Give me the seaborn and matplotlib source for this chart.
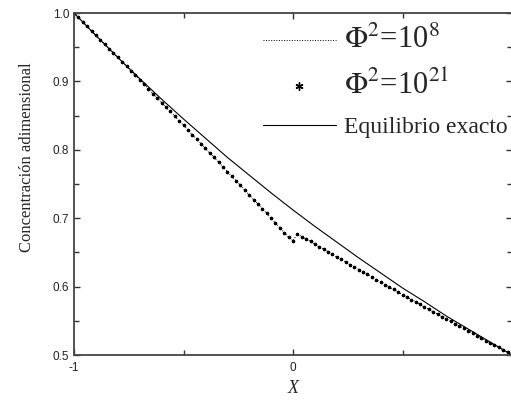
import matplotlib
matplotlib.use('Agg')
import matplotlib.pyplot as plt
import seaborn as sns
from matplotlib.ticker import MultipleLocator, FormatStrFormatter

# Données
# =============================================

# Grille en X (pas de 0.02)
x_grid = [-1.00, -0.98, -0.96, -0.94, -0.92, -0.90, -0.88, -0.86, -0.84, -0.82,
          -0.80, -0.78, -0.76, -0.74, -0.72, -0.70, -0.68, -0.66, -0.64, -0.62,
          -0.60, -0.58, -0.56, -0.54, -0.52, -0.50, -0.48, -0.46, -0.44, -0.42,
          -0.40, -0.38, -0.36, -0.34, -0.32, -0.30, -0.28, -0.26, -0.24, -0.22,
          -0.20, -0.18, -0.16, -0.14, -0.12, -0.10, -0.08, -0.06, -0.04, -0.02,
          0.00,
          0.02, 0.04, 0.06, 0.08, 0.10, 0.12, 0.14, 0.16, 0.18, 0.20,
          0.22, 0.24, 0.26, 0.28, 0.30, 0.32, 0.34, 0.36, 0.38, 0.40,
          0.42, 0.44, 0.46, 0.48, 0.50, 0.52, 0.54, 0.56, 0.58, 0.60,
          0.62, 0.64, 0.66, 0.68, 0.70, 0.72, 0.74, 0.76, 0.78, 0.80,
          0.82, 0.84, 0.86, 0.88, 0.90, 0.92, 0.94, 0.96, 0.98, 1.00]

# Phi^2 = 10^21 (astérisques)
c_phi21 = [1.000, 0.994, 0.987, 0.981, 0.974, 0.968, 0.961, 0.955, 0.948, 0.942,
           0.935, 0.929, 0.922, 0.915, 0.909, 0.902, 0.896, 0.889, 0.882, 0.876,
           0.869, 0.862, 0.856, 0.849, 0.842, 0.836, 0.829, 0.822, 0.816, 0.809,
           0.802, 0.795, 0.789, 0.782, 0.775, 0.768, 0.761, 0.755, 0.748, 0.741,
           0.734, 0.727, 0.721, 0.714, 0.707, 0.700, 0.693, 0.686, 0.679, 0.672,
           0.667,
           0.677, 0.673, 0.670, 0.666, 0.662, 0.658, 0.655, 0.651, 0.647, 0.643,
           0.640, 0.636, 0.632, 0.629, 0.625, 0.621, 0.618, 0.614, 0.610, 0.607,
           0.603, 0.599, 0.596, 0.592, 0.588, 0.585, 0.581, 0.578, 0.574, 0.570,
           0.567, 0.563, 0.560, 0.556, 0.553, 0.549, 0.546, 0.542, 0.539, 0.535,
           0.532, 0.528, 0.525, 0.521, 0.518, 0.514, 0.511, 0.507, 0.504, 0.500]

# Phi^2 = 10^8 (pointillés) : confondu avec la courbe 10^21 à cette échelle
c_phi8 = list(c_phi21)

# Équilibre exact
x_exact = [-1.0, -0.9, -0.8, -0.7, -0.6, -0.5, -0.4, -0.3, -0.2, -0.1,
           0.0, 0.1, 0.2, 0.3, 0.4, 0.5, 0.6, 0.7, 0.8, 0.9, 1.0]
c_exact = [1.000, 0.967, 0.935, 0.904, 0.874, 0.845, 0.817, 0.789, 0.763, 0.737,
           0.712, 0.688, 0.665, 0.642, 0.620, 0.598, 0.578, 0.557, 0.538, 0.519, 0.500]

labels = [r'$\Phi^2$=10$^8$', r'$\Phi^2$=10$^{21}$', 'Equilibrio exacto']

# Figure
# =============================================
sns.set_style('ticks')
plt.rcParams['font.family'] = ['Liberation Sans', 'DejaVu Sans']
plt.rcParams['mathtext.fontset'] = 'stix'

fig = plt.figure(figsize=(5.11, 4.0), dpi=100)
ax = fig.add_axes([74 / 511, 45 / 400, 438 / 511, 342 / 400])

sns.lineplot(x=x_grid, y=c_phi8, ax=ax, color='k', linewidth=0.7, linestyle=':',
             sort=False, estimator=None, label=labels[0])
sns.lineplot(x=x_grid, y=c_phi21, ax=ax, color='k', linestyle='none',
             marker=(6, 2, 0), markersize=2.4, markeredgecolor='k', markeredgewidth=1.0,
             sort=False, estimator=None, label=labels[1])
sns.lineplot(x=x_exact, y=c_exact, ax=ax, color='k', linewidth=0.8,
             sort=False, estimator=None, label=labels[2])

ax.set_xlim(-1, 1)
ax.set_ylim(0.5, 1.0)
# le libellé "1" tombe hors de l'image dans l'original
ax.set_xticks([-1, 0])
ax.set_xticks([-0.5, 0.5], minor=True)
ax.yaxis.set_major_locator(MultipleLocator(0.1))
ax.yaxis.set_minor_locator(MultipleLocator(0.05))
ax.yaxis.set_major_formatter(FormatStrFormatter('%.1f'))
ax.xaxis.set_major_formatter(FormatStrFormatter('%d'))

ax.tick_params(which='both', direction='in', top=True, right=True,
               width=1.0, color='#333333', labelsize=8.5, labelcolor='#222222')
ax.tick_params(which='major', length=4.5)
ax.tick_params(which='minor', length=3.5)
ax.tick_params(axis='x', pad=5)
ax.tick_params(axis='y', pad=3.5)

for side in ['left', 'bottom', 'top', 'right']:
    ax.spines[side].set_linewidth(1.3)
    ax.spines[side].set_color('#444444')

ax.set_ylabel('Concentración adimensional', family='Liberation Serif', fontsize=12)
ax.yaxis.set_label_coords(-0.089, 0.579)
ax.set_xlabel('X', family='Liberation Serif', style='italic', fontsize=13)
ax.xaxis.set_label_coords(0.5, -0.073)

# Légende sans cadre, tailles de texte différentes par ligne
handles, labs = ax.get_legend_handles_labels()
leg = ax.legend(handles, labs, loc='upper left', bbox_to_anchor=(0.42, 0.975),
                frameon=False, prop={'family': 'Liberation Serif', 'size': 17},
                handlelength=3.1, handletextpad=0.35, labelspacing=0.65,
                borderpad=0.2, borderaxespad=0, markerscale=2.4)
for t in leg.get_texts()[:2]:
    t.set_fontsize(22)

fig.savefig('out.png', dpi=100)
